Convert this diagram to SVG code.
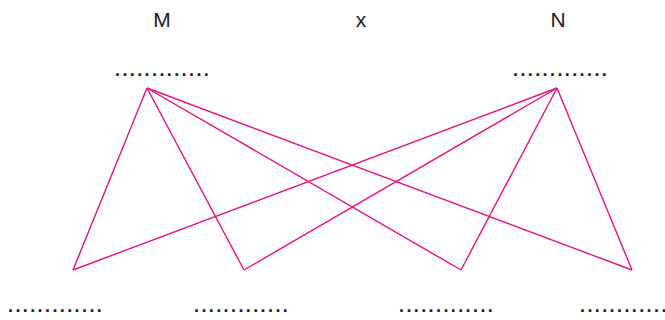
<svg xmlns="http://www.w3.org/2000/svg" width="665" height="320" viewBox="0 0 665 320">
<style>
.lbl{font-family:"Liberation Sans",Arial,sans-serif;font-size:21px;fill:#222;text-anchor:middle}
.dots{font-family:"Liberation Sans",Arial,sans-serif;font-size:18px;font-weight:bold;fill:#222;letter-spacing:2.4px}
.c{stroke:#e6117f;stroke-width:1.4;fill:none}
</style>
<rect width="665" height="320" fill="#fff"/>
<g id="label-M"><text class="lbl" x="162" y="27">M</text></g>
<g id="label-x"><text class="lbl" x="361" y="27">x</text></g>
<g id="label-N"><text class="lbl" x="558" y="27">N</text></g>
<g id="node-M"><text class="dots" x="115" y="76">.............</text></g>
<g id="node-N"><text class="dots" x="513" y="76">.............</text></g>
<g id="node-b1"><text class="dots" x="8" y="312">.............</text></g>
<g id="node-b2"><text class="dots" x="194" y="312">.............</text></g>
<g id="node-b3"><text class="dots" x="399" y="312">.............</text></g>
<g id="node-b4"><text class="dots" x="580" y="312">.............</text></g>
<g id="connectors">
<line class="c" x1="147" y1="88" x2="73" y2="270"/>
<line class="c" x1="147" y1="88" x2="244" y2="270"/>
<line class="c" x1="147" y1="88" x2="461" y2="270"/>
<line class="c" x1="147" y1="88" x2="632" y2="270"/>
<line class="c" x1="557" y1="88" x2="73" y2="270"/>
<line class="c" x1="557" y1="88" x2="244" y2="270"/>
<line class="c" x1="557" y1="88" x2="461" y2="270"/>
<line class="c" x1="557" y1="88" x2="632" y2="270"/>
</g>
</svg>
